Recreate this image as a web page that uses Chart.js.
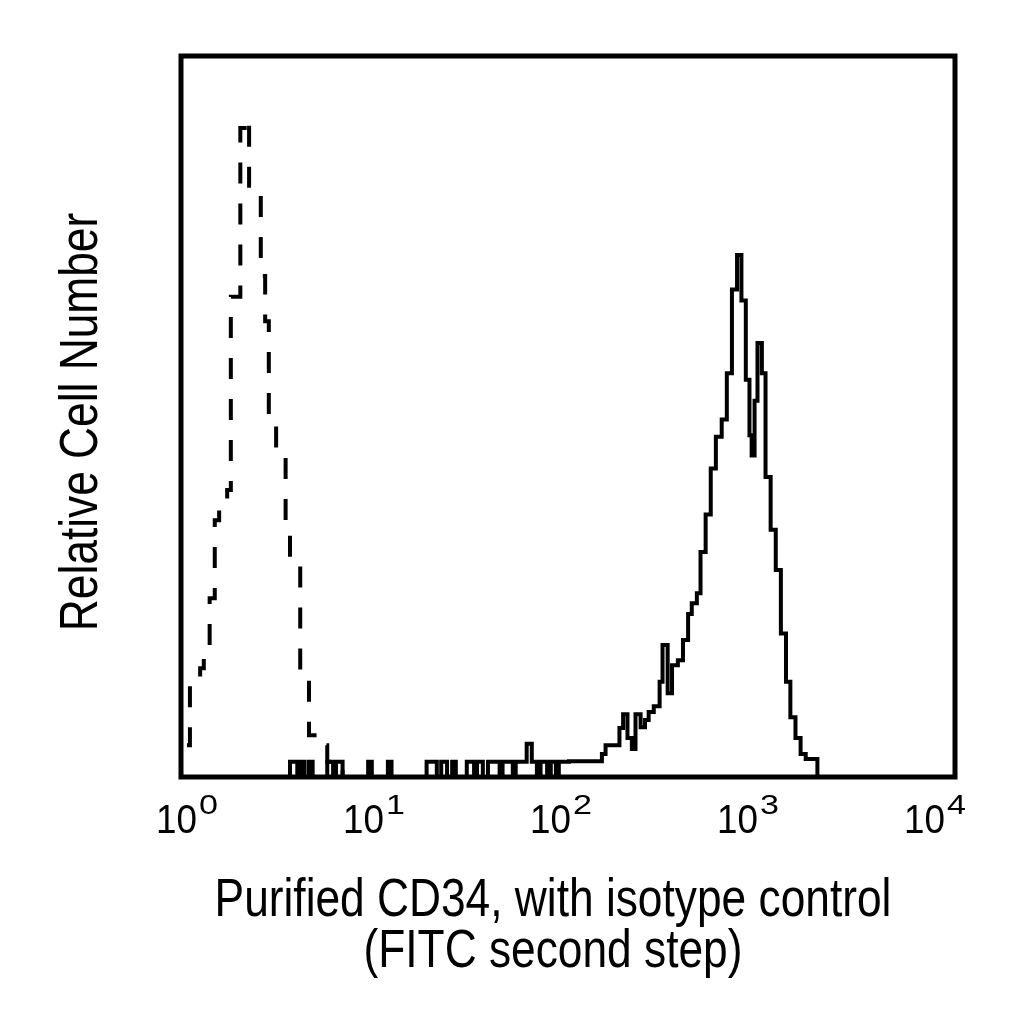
<!DOCTYPE html>
<html>
<head>
<meta charset="utf-8">
<title>CD34 histogram</title>
<script src="https://cdn.jsdelivr.net/npm/chart.js@4.4.1/dist/chart.umd.min.js"></script>
<style>
  html, body { margin: 0; padding: 0; background: #ffffff; }
  #wrap { width: 1024px; height: 1024px; }
</style>
</head>
<body>
<div id="wrap"><canvas id="histChart" width="1024" height="1024"></canvas></div>
<script>
// 1024 channels over 4 decades -> 256 channels per decade
const channelsPerDecade = 256;
const tickExponents = [0, 1, 2, 3, 4];

// isotype control (dashed) - bin left edge channel, relative count
const isoChannels = [0, 4, 18, 23, 31, 38, 44, 55, 60, 73, 79, 85, 101, 107, 112, 122, 135, 141, 155, 167, 181, 192, 213];
const isoCounts = [4.4, 13.2, 15.1, 18.3, 24.8, 35.6, 37.3, 39.8, 66.6, 90.0, 91.4, 82.0, 69.5, 63.2, 50.0, 45.0, 33.5, 30.1, 14.8, 5.8, 4.4, 2.1, 0];

// purified CD34 (solid)
const cd34Channels = [0, 141, 151, 156, 161, 167, 172, 192, 200, 204, 213, 248, 253, 275, 280, 328, 342, 348, 356, 363, 368,
  383, 393, 397, 405, 412, 428, 432, 446, 450, 465, 472, 479, 484, 493, 498, 505, 509, 523, 568, 573, 592, 597, 603, 609,
  614, 621, 627, 632, 639, 647, 651, 658, 664, 672, 679, 686, 691, 698, 703, 710, 717, 724, 732, 739, 746, 753, 759, 765,
  770, 773, 777, 781, 787, 792, 799, 806, 813, 820, 826, 833, 840, 847, 863];
const cd34Counts = [0, 2.1, 0, 2.1, 0, 2.1, 0, 2.1, 0, 2.1, 0, 2.1, 0, 2.1, 0, 2.1, 0, 2.1, 0, 2.1, 0,
  2.1, 0, 2.1, 0, 2.1, 0, 2.1, 0, 2.1, 4.6, 2.1, 0, 2.1, 0, 2.1, 0, 2.1, 2.2, 3.2, 4.4, 6.8, 8.7, 5.4, 3.9,
  8.7, 6.9, 7.9, 9.0, 9.8, 13.2, 18.3, 11.6, 15.5, 16.2, 19.0, 22.6, 24.1, 25.5, 31.2, 36.4, 42.8, 47.2, 49.6, 56.0, 67.6, 72.4, 66.1, 55.1,
  47.4, 44.6, 52.2, 60.2, 56.0, 41.6, 34.3, 28.7, 19.9, 13.2, 8.3, 5.4, 3.2, 2.5, 0];

const xTitle = ["Purified CD34, with isotype control", "(FITC second step)"];
const yTitle = "Relative Cell Number";

function toPoints(channels, counts) {
  return channels.map(function (c, i) {
    return { x: Math.pow(10, c / channelsPerDecade), y: counts[i] };
  });
}

const fontStack = "'Liberation Sans', Arial, sans-serif";

function textWidth(ctx, text, size, squeeze) {
  ctx.save();
  ctx.font = size + "px " + fontStack;
  const w = ctx.measureText(text).width * squeeze;
  ctx.restore();
  return w;
}

// sans text stretched/squeezed horizontally by `squeeze`
function scaledText(ctx, text, x, y, size, squeeze, align) {
  const w = textWidth(ctx, text, size, squeeze);
  const x0 = align === "center" ? x - w / 2 : x;
  ctx.save();
  ctx.font = size + "px " + fontStack;
  ctx.fillStyle = "#000";
  ctx.textBaseline = "alphabetic";
  ctx.textAlign = "left";
  ctx.translate(x0, y);
  ctx.scale(squeeze, 1);
  ctx.fillText(text, 0, 0);
  ctx.restore();
  return w;
}

const framePlugin = {
  id: "frameAndLabels",
  afterDraw(chart) {
    const ctx = chart.ctx;
    const a = chart.chartArea;
    const xs = chart.scales.x;

    // the box runs a little past the 10^0 and 10^4 positions
    ctx.save();
    ctx.strokeStyle = "#000";
    ctx.lineWidth = 5;
    ctx.lineJoin = "miter";
    ctx.strokeRect(a.left - 6, a.top, a.right - a.left + 26, a.bottom - a.top);
    ctx.restore();

    // decade labels 10^n
    tickExponents.forEach(function (e) {
      const px = xs.getPixelForValue(Math.pow(10, e));
      const base = "10";
      const sup = String(e);
      const wb = textWidth(ctx, base, 40, 0.92);
      const ws = textWidth(ctx, sup, 28, 1.22);
      const gap = 2;
      const start = px - (wb + gap + ws) / 2;
      scaledText(ctx, base, start, 833, 40, 0.92, "left");
      scaledText(ctx, sup, start + wb + gap, 814, 28, 1.22, "left");
    });

    // axis titles
    scaledText(ctx, xTitle[0], 553, 916, 54, 0.82, "center");
    scaledText(ctx, xTitle[1], 553, 967, 54, 0.82, "center");

    ctx.save();
    ctx.translate(97, 422);
    ctx.rotate(-Math.PI / 2);
    scaledText(ctx, yTitle, 0, 0, 54, 0.82, "center");
    ctx.restore();
  },
};

function initChart() {
  const el = document.getElementById("histChart");
  new Chart(el.getContext("2d"), {
    type: "line",
    data: {
      datasets: [
        {
          label: "Isotype control",
          data: toPoints(isoChannels, isoCounts),
          borderColor: "#000",
          borderWidth: 4,
          borderDash: [21, 20],
          borderCapStyle: "butt",
          borderJoinStyle: "miter",
          stepped: "before",
          pointRadius: 0,
          fill: false,
        },
        {
          label: "Purified CD34",
          data: toPoints(cd34Channels, cd34Counts),
          borderColor: "#000",
          borderWidth: 4,
          borderCapStyle: "butt",
          borderJoinStyle: "miter",
          stepped: "before",
          pointRadius: 0,
          fill: false,
        },
      ],
    },
    options: {
      responsive: false,
      animation: false,
      layout: { padding: { left: 187, right: 89, top: 56, bottom: 247 } },
      plugins: { legend: { display: false }, tooltip: { enabled: false } },
      scales: {
        x: { type: "logarithmic", min: 1, max: 10000, display: false },
        y: { type: "linear", min: 0, max: 100, display: false },
      },
    },
    plugins: [framePlugin],
  });
}

if (document.readyState === "loading") {
  document.addEventListener("DOMContentLoaded", initChart);
} else {
  initChart();
}
</script>
</body>
</html>
